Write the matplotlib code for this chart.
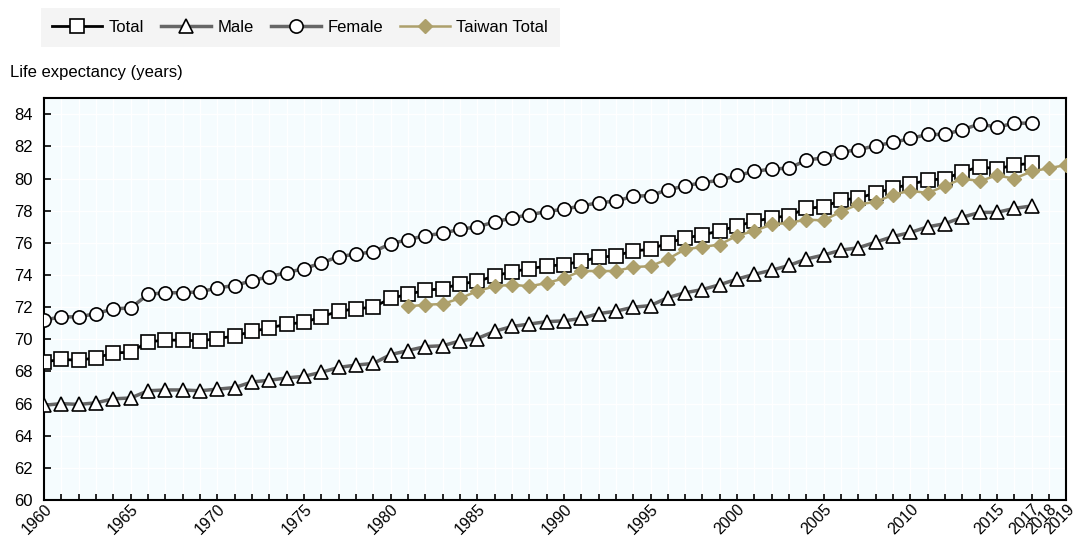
import matplotlib
matplotlib.use("Agg")
import matplotlib.pyplot as plt

plt.rcParams['font.family'] = ['Liberation Sans', 'DejaVu Sans']

years = list(range(1960, 2018))
tw_years = list(range(1981, 2020))

total = [68.6, 68.75, 68.7, 68.85, 69.15, 69.2, 69.85, 69.95, 69.95, 69.9,
         70.05, 70.2, 70.5, 70.7, 70.95, 71.05, 71.4, 71.75, 71.9, 72.0,
         72.55, 72.8, 73.05, 73.15, 73.45, 73.6, 73.95, 74.2, 74.4, 74.55,
         74.65, 74.85, 75.1, 75.2, 75.5, 75.6, 76.0, 76.3, 76.5, 76.75,
         77.05, 77.35, 77.55, 77.7, 78.15, 78.25, 78.65, 78.8, 79.1, 79.4,
         79.65, 79.9, 80.0, 80.4, 80.75, 80.6, 80.85, 80.95]
male = [65.9, 66.0, 65.95, 66.05, 66.3, 66.35, 66.8, 66.85, 66.85, 66.8,
        66.9, 67.0, 67.35, 67.45, 67.6, 67.7, 67.95, 68.25, 68.4, 68.5,
        69.05, 69.3, 69.55, 69.6, 69.9, 70.05, 70.5, 70.8, 70.95, 71.1,
        71.15, 71.3, 71.6, 71.75, 72.0, 72.1, 72.6, 72.9, 73.1, 73.4,
        73.75, 74.05, 74.3, 74.6, 75.0, 75.25, 75.55, 75.7, 76.05, 76.4,
        76.65, 77.0, 77.2, 77.6, 77.9, 77.9, 78.15, 78.3]
female = [71.2, 71.4, 71.4, 71.6, 71.9, 71.95, 72.8, 72.9, 72.9, 72.95,
          73.2, 73.35, 73.65, 73.9, 74.15, 74.4, 74.75, 75.15, 75.3, 75.45,
          75.95, 76.2, 76.45, 76.6, 76.85, 77.0, 77.3, 77.55, 77.75, 77.95,
          78.1, 78.3, 78.5, 78.6, 78.9, 78.95, 79.3, 79.55, 79.75, 79.9,
          80.2, 80.45, 80.6, 80.65, 81.15, 81.3, 81.65, 81.8, 82.05, 82.25,
          82.5, 82.75, 82.75, 83.05, 83.4, 83.2, 83.45, 83.45]
taiwan = [72.05, 72.15, 72.2, 72.55, 73.0, 73.3, 73.4, 73.3, 73.5, 73.8,
          74.25, 74.25, 74.25, 74.5, 74.55, 75.0, 75.6, 75.75, 75.9, 76.45,
          76.75, 77.15, 77.25, 77.45, 77.4, 77.95, 78.4, 78.55, 79.0, 79.25,
          79.1, 79.55, 80.0, 79.85, 80.2, 80.0, 80.45, 80.65, 80.85]

tick_labels = {1960: "1960", 1965: "1965", 1970: "1970", 1975: "1975",
               1980: "1980", 1985: "1985", 1990: "1990", 1995: "1995",
               2000: "2000", 2005: "2005", 2010: "2010", 2015: "2015",
               2017: "2017", 2018: "2018", 2019: "2019"}

fig = plt.figure(figsize=(10.76, 5.40), dpi=100)
ax = fig.add_axes([0.041, 0.074, 0.950, 0.744])
ax.set_facecolor('#F5FCFE')

ax.plot(years, total, color='black', lw=2, marker='s', ms=9.5,
        mfc='white', mec='black', mew=1.2, label='Total', zorder=4)
ax.plot(years, male, color='#666666', lw=2.5, marker='^', ms=10,
        mfc='white', mec='black', mew=1.2, label='Male', zorder=3)
ax.plot(years, female, color='#666666', lw=2.5, marker='o', ms=9.5,
        mfc='white', mec='black', mew=1.2, label='Female', zorder=3)
ax.plot(tw_years, taiwan, color='#ADA06B', lw=1.8, marker='D', ms=7,
        mfc='#ADA06B', mec='#ADA06B', label='Taiwan Total', zorder=5)

ax.set_xlim(1960, 2019)
ax.set_ylim(60, 85)
ax.set_yticks(range(60, 85, 2))
ax.set_xticks(list(range(1960, 2020)))
ax.set_xticklabels([tick_labels.get(y, "") for y in range(1960, 2020)],
                   rotation=45, ha='right', rotation_mode='anchor')
ax.tick_params(axis='x', direction='in', length=4, width=1.2, labelsize=11.5, pad=1)
ax.tick_params(axis='y', direction='in', length=5, width=1.2, labelsize=12, pad=8)
ax.grid(True, color='white', lw=1)
ax.set_axisbelow(True)
for s in ax.spines.values():
    s.set_linewidth(1.5)
    s.set_color('black')

fig.text(0.009, 0.865, "Life expectancy (years)", fontsize=12, va='center')

leg = fig.legend(loc='upper left', bbox_to_anchor=(0.03, 1.0), ncol=4,
                 frameon=True, fontsize=12, handlelength=3.0, columnspacing=1.0,
                 handletextpad=0.4, borderpad=0.7, fancybox=False)
leg.get_frame().set_facecolor('#F2F2F2')
leg.get_frame().set_edgecolor('none')

fig.savefig('out.png', dpi=100)
